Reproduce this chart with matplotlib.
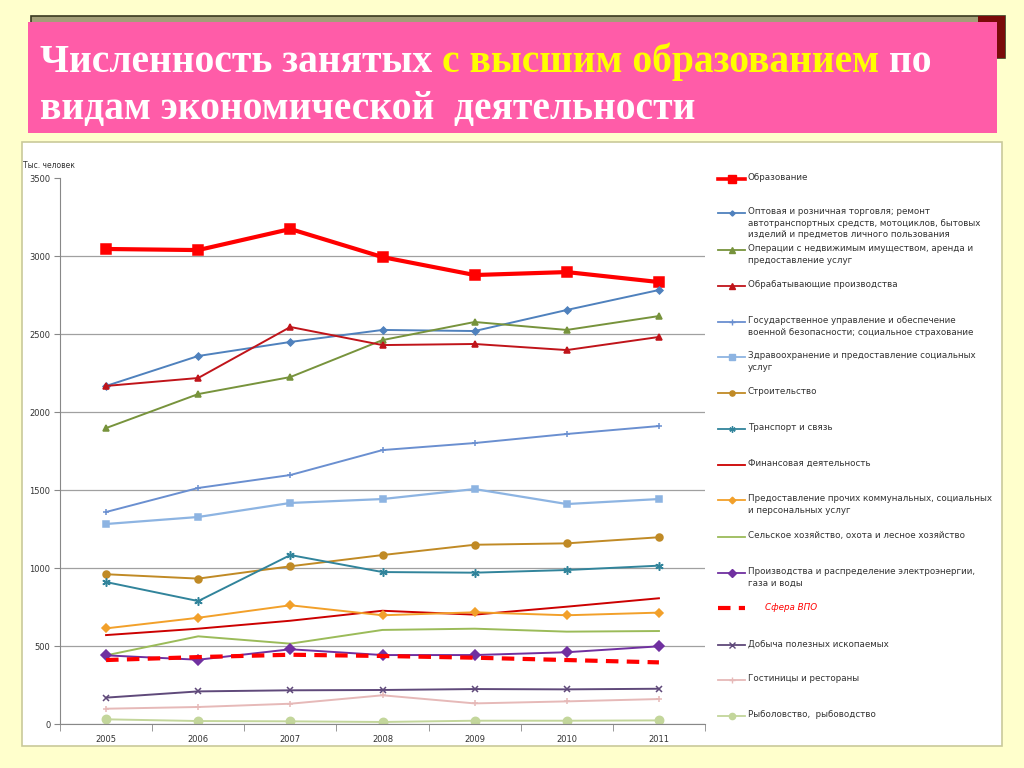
import matplotlib
matplotlib.use("Agg")
import matplotlib.pyplot as plt
from matplotlib.patches import Rectangle
from matplotlib.lines import Line2D

years = ["2005", "2006", "2007", "2008", "2009", "2010", "2011"]

obrazovanie = [3045, 3038, 3173, 2993, 2878, 2897, 2833]
torgovlya = [2167, 2359, 2449, 2526, 2519, 2654, 2782]
operacii = [1897, 2115, 2224, 2461, 2577, 2526, 2615]
obrabat = [2167, 2218, 2545, 2429, 2436, 2397, 2481]
gosupr = [1359, 1513, 1596, 1756, 1801, 1859, 1910]
zdrav = [1282, 1327, 1417, 1442, 1506, 1410, 1442]
stroit = [960, 932, 1011, 1083, 1149, 1158, 1197]
transport = [910, 788, 1083, 974, 970, 987, 1015]
finans = [570, 611, 662, 726, 701, 752, 806]
prochie = [613, 681, 761, 697, 716, 697, 714]
selhoz = [440, 562, 515, 603, 611, 592, 596]
energo = [440, 412, 479, 442, 442, 460, 498]
vpo = [410, 429, 444, 436, 425, 410, 395]
dobycha = [169, 209, 216, 218, 224, 222, 226]
gostinicy = [98, 109, 130, 184, 132, 145, 160]
rybolov = [30, 19, 17, 13, 21, 21, 23]

labels = [
    "Образование",
    "Оптовая и розничная торговля; ремонт\nавтотранспортных средств, мотоциклов, бытовых\nизделий и предметов личного пользования",
    "Операции с недвижимым имуществом, аренда и\nпредоставление услуг",
    "Обрабатывающие производства",
    "Государственное управление и обеспечение\nвоенной безопасности; социальное страхование",
    "Здравоохранение и предоставление социальных\nуслуг",
    "Строительство",
    "Транспорт и связь",
    "Финансовая деятельность",
    "Предоставление прочих коммунальных, социальных\nи персональных услуг",
    "Сельское хозяйство, охота и лесное хозяйство",
    "Производства и распределение электроэнергии,\nгаза и воды",
    "Сфера ВПО",
    "Добыча полезных ископаемых",
    "Гостиницы и рестораны",
    "Рыболовство,  рыбоводство",
]
yticks = [0, 500, 1000, 1500, 2000, 2500, 3000, 3500]

series = [obrazovanie, torgovlya, operacii, obrabat, gosupr, zdrav, stroit,
          transport, finans, prochie, selhoz, energo, vpo, dobycha, gostinicy, rybolov]
styles = [
    dict(color="#FF0000", lw=3.0, marker="s", ms=7, ls="-"),
    dict(color="#4F81BD", lw=1.4, marker="D", ms=3.5, ls="-"),
    dict(color="#77933C", lw=1.4, marker="^", ms=5, ls="-"),
    dict(color="#C0141A", lw=1.4, marker="^", ms=5, ls="-"),
    dict(color="#6A8FD0", lw=1.4, marker="+", ms=5, ls="-"),
    dict(color="#8DB4E2", lw=1.6, marker="s", ms=5, ls="-"),
    dict(color="#C08A25", lw=1.4, marker="o", ms=5, ls="-"),
    dict(color="#31849B", lw=1.4, marker=(6, 2, 0), ms=6, ls="-"),
    dict(color="#CC0000", lw=1.4, marker=None, ms=0, ls="-"),
    dict(color="#F2A02A", lw=1.4, marker="D", ms=4.5, ls="-"),
    dict(color="#9BBB59", lw=1.4, marker=None, ms=0, ls="-"),
    dict(color="#7030A0", lw=1.4, marker="D", ms=5, ls="-"),
    dict(color="#FF0000", lw=3.0, marker=None, ms=0, ls=(0, (3, 2))),
    dict(color="#5F497A", lw=1.4, marker="x", ms=5, ls="-"),
    dict(color="#E6B9B8", lw=1.4, marker="+", ms=5, ls="-"),
    dict(color="#C3D69B", lw=1.4, marker="o", ms=6, ls="-"),
]

W, H = 1024, 768
def fx(x): return x / W
def fy(y): return 1 - y / H

fig = plt.figure(figsize=(10.24, 7.68), dpi=100, facecolor="#FFFFCC")

# decorative strip behind title
fig.patches.append(Rectangle((fx(31), fy(58)), fx(1005) - fx(31), fy(16) - fy(58),
                             transform=fig.transFigure, facecolor="#A39E78",
                             edgecolor="#3A3A20", lw=1.2, zorder=0))
fig.patches.append(Rectangle((fx(978), fy(58)), fx(1005) - fx(978), fy(16) - fy(58),
                             transform=fig.transFigure, facecolor="#7A0A0A",
                             edgecolor="none", zorder=0.5))
# pink title box
fig.patches.append(Rectangle((fx(28), fy(133)), fx(997) - fx(28), fy(22) - fy(133),
                             transform=fig.transFigure, facecolor="#FF5CA8",
                             edgecolor="none", zorder=1))
# white chart box
fig.patches.append(Rectangle((fx(22), fy(746)), fx(1002) - fx(22), fy(142) - fy(746),
                             transform=fig.transFigure, facecolor="white",
                             edgecolor="#C9C99A", lw=1.2, zorder=1))

# title with colored segments
tfont = dict(family="Liberation Serif", weight="bold", fontsize=28.5)
renderer = fig.canvas.get_renderer()
def seg(x, y, s, color):
    t = fig.text(fx(x), fy(y), s, color=color, va="baseline", ha="left", zorder=3, **tfont)
    bb = t.get_window_extent(renderer=renderer)
    return x + bb.width
probe_a = fig.text(0, 0, "aa", **tfont)
probe_b = fig.text(0, 0, "a a", **tfont)
sp = probe_b.get_window_extent(renderer).width - probe_a.get_window_extent(renderer).width
probe_a.remove(); probe_b.remove()
x = seg(40, 72, "Численность занятых", "white")
x = seg(x + sp, 72, "с высшим образованием", "#FFFF00")
seg(x + sp, 72, "по", "white")
seg(40, 119, "видам экономической  деятельности", "white")

# plot
ax = fig.add_axes([fx(60), fy(724), fx(705) - fx(60), fy(178) - fy(724)])
ax.set_zorder(2)
ax.patch.set_visible(False)
xs = list(range(len(years)))
for vals, st in zip(series, styles):
    ax.plot(xs, vals, color=st["color"], lw=st["lw"], ls=st["ls"],
            marker=st["marker"], ms=st["ms"], mew=1.1,
            markeredgecolor=st["color"], markerfacecolor=st["color"])
ax.set_xlim(-0.5, len(years) - 0.5)
ax.set_ylim(0, 3500)
ax.set_yticks(yticks)
ax.set_yticklabels([str(v) for v in yticks], fontsize=6, color="#333333")
ax.set_xticks(xs)
ax.set_xticklabels(years, fontsize=6, color="#333333")
ax.set_xticks([i - 0.5 for i in range(len(years) + 1)], minor=True)
ax.tick_params(axis="x", which="major", length=0, pad=8)
ax.tick_params(axis="x", which="minor", length=5, color="#888888")
ax.tick_params(axis="y", length=4, color="#888888", pad=3)
ax.yaxis.grid(True, color="#A0A0A0", lw=0.9)
ax.get_ygridlines()[-1].set_visible(False)
ax.set_axisbelow(True)
for s in ["top", "right"]:
    ax.spines[s].set_visible(False)
for s in ["left", "bottom"]:
    ax.spines[s].set_color("#888888")
fig.text(fx(23), fy(166), "Тыс. человек", fontsize=5.5, color="#333333", va="center", zorder=3)

# legend
leg_y = [179, 213, 250, 286, 322, 357, 393, 429, 465, 500, 537, 573, 608, 645, 680, 716]
for lab, st, yy in zip(labels, styles, leg_y):
    if st["ls"] != "-":
        lw = 3.0
    elif st["lw"] > 2:
        lw = 2.6
    else:
        lw = 1.3
    ln = Line2D([fx(718), fx(731.5), fx(745)], [fy(yy)] * 3, transform=fig.transFigure,
                color=st["color"], lw=lw, ls=st["ls"],
                marker=st["marker"], ms=st["ms"] * 0.75, markevery=[1],
                markeredgecolor=st["color"], markerfacecolor=st["color"], zorder=3)
    fig.lines.append(ln)
    if lab == "Сфера ВПО":
        fig.text(fx(765), fy(yy), lab, fontsize=6.3, color="#FF0000", style="italic",
                 va="center", ha="left", zorder=3)
    else:
        fig.text(fx(748), fy(yy) + 0.0075, lab, fontsize=6.3, color="#333333",
                 va="top", ha="left", linespacing=1.35, zorder=3)

fig.savefig("out.png", dpi=100, facecolor=fig.get_facecolor())
